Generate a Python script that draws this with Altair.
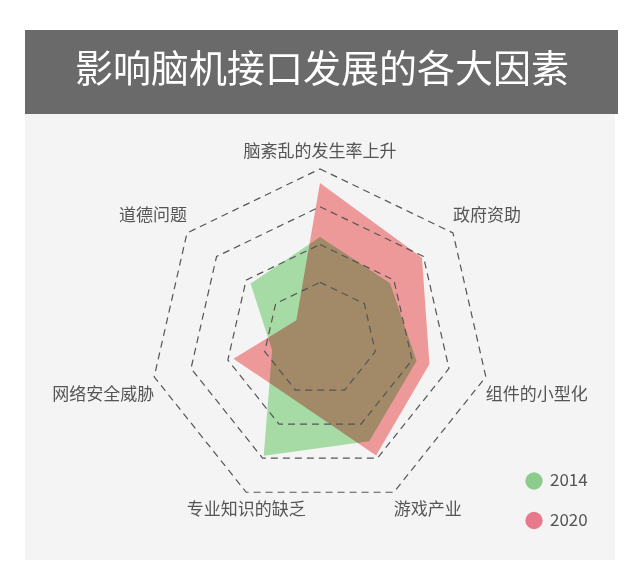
import altair as alt
import pandas as pd

# ---- data ----
categories = ["脑紊乱的发生率上升", "政府资助", "组件的小型化", "游戏产业",
              "专业知识的缺乏", "网络安全威胁", "道德问题"]
values_2014 = [2.7, 2.37, 2.62, 3.0, 3.43, 1.3, 2.35]
values_2020 = [4.13, 3.45, 2.97, 3.42, 1.73, 2.35, 0.8]
years = ["2014", "2020"]
grid_levels = [1.5, 2.5, 3.5, 4.5]
title_text = "影响脑机接口发展的各大因素"

FONT = "Noto Sans CJK SC"
N = len(categories)

series_rows = []
for yr, vals in zip(years, [values_2014, values_2020]):
    for i, (c, v) in enumerate(zip(categories, vals)):
        series_rows.append({"year": yr, "idx": i, "category": c, "value": v})
series_df = pd.DataFrame(series_rows)

grid_df = pd.DataFrame([{"level": lv, "idx": i, "value": lv}
                        for lv in grid_levels for i in range(N)])
label_df = pd.DataFrame([{"idx": i, "category": c, "value": max(grid_levels)}
                         for i, c in enumerate(categories)])
legend_df = pd.DataFrame({"year": years, "value": [0, 0], "idx": [0, 0]})

W, H = 624, 568
X = alt.X("x:Q", scale=alt.Scale(domain=[-8.254, 8.254], nice=False, zero=False), axis=None)
Y = alt.Y("y:Q", scale=alt.Scale(domain=[-6.27, 8.757], nice=False, zero=False), axis=None)


def polar(chart):
    return chart.transform_calculate(
        ang=f"PI/2 - datum.idx*2*PI/{N}"
    ).transform_calculate(
        x="datum.value*cos(datum.ang)",
        y="datum.value*sin(datum.ang)",
        c="cos(datum.ang)",
        s="sin(datum.ang)",
    )


one = alt.Data(values=[{}])

banner = alt.Chart(one).mark_rect(color="#6a6a6a").encode(
    x=alt.value(17), x2=alt.value(610), y=alt.value(22), y2=alt.value(106))
panel = alt.Chart(one).mark_rect(color="#f4f4f4").encode(
    x=alt.value(17), x2=alt.value(607), y=alt.value(106), y2=alt.value(552))
title = alt.Chart(one).mark_text(
    text=title_text, font=FONT, fontSize=38, color="white",
    align="center", baseline="middle").encode(x=alt.value(314), y=alt.value(63))

legend_pts = polar(alt.Chart(legend_df)).mark_circle(size=8, opacity=1).encode(
    x=X, y=Y,
    color=alt.Color("year:N",
                    scale=alt.Scale(domain=years, range=["#8ccb8c", "#e8798d"]),
                    legend=alt.Legend(orient="none", legendX=517, legendY=464,
                                      title=None, symbolType="circle",
                                      symbolSize=300, symbolStrokeWidth=0,
                                      symbolOpacity=1,
                                      labelFont=FONT, labelFontSize=17,
                                      labelColor="#555555", labelOffset=7,
                                      rowPadding=21.5, padding=0)),
)

poly14 = polar(alt.Chart(series_df).transform_filter("datum.year == '2014'")).mark_line(
    interpolate="linear-closed", fill="#a6dba6", strokeOpacity=0, strokeWidth=0
).encode(x=X, y=Y, order="idx:Q")

poly20 = polar(alt.Chart(series_df).transform_filter("datum.year == '2020'")).mark_line(
    interpolate="linear-closed", fill="#f9a0a0", strokeOpacity=0, strokeWidth=0,
    blend="multiply"
).encode(x=X, y=Y, order="idx:Q")

grid = polar(alt.Chart(grid_df)).mark_line(
    interpolate="linear-closed", stroke="#555555", strokeWidth=1.2, strokeDash=[7, 5]
).encode(x=X, y=Y, detail="level:N", order="idx:Q")

# category labels placed at the outer grid vertices, aligned by side
label_layers = []
aligns = {
    "left": "datum.c > 0.3",
    "right": "datum.c < -0.5",
    "center": "datum.c >= -0.5 && datum.c <= 0.3",
}
for align, cond in aligns.items():
    for upper in (True, False):
        scond = "datum.s > 0.1" if upper else "datum.s <= 0.1"
        label_layers.append(
            polar(alt.Chart(label_df)).transform_filter(f"({cond}) && ({scond})").mark_text(
                font=FONT, fontSize=17, color="#555555", align=align,
                baseline="bottom" if upper else "top",
                dy=-8 if upper else 10,
            ).encode(x=X, y=Y, text="category:N")
        )

chart = alt.layer(
    banner, panel, title, legend_pts, poly14, poly20, grid, *label_layers
).properties(
    width=W, height=H, padding=0, autosize=alt.AutoSizeParams(type="none")
).configure_view(strokeWidth=0)

chart.save("out.html", embed_options={"renderer": "svg", "actions": False})
